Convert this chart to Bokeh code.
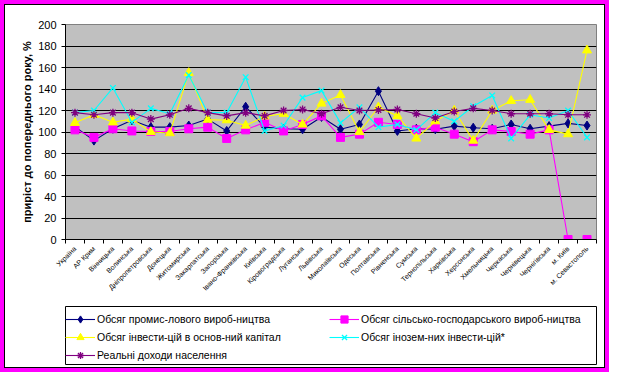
from math import pi
from bokeh.plotting import figure
from bokeh.layouts import column
from bokeh.models import Range1d, FixedTicker, Legend, LegendItem
from bokeh.embed import file_html
from bokeh.resources import INLINE

regions = ["Україна", "АР Крим", "Вінницька", "Волинська", "Дніпропетровська", "Донецька",
           "Житомирська", "Закарпатська", "Запорізька", "Івано-Франківська", "Київська",
           "Кіровоградська", "Луганська", "Львівська", "Миколаївська", "Одеська", "Полтавська",
           "Рівненська", "Сумська", "Тернопільська", "Харківська", "Херсонська", "Хмельницька",
           "Черкаська", "Чернівецька", "Чернігівська", "м. Київ", "м. Севастополь"]

industrial = [105, 92, 103, 111, 104.5, 104.5, 106, 112, 101, 123.5, 104.5, 103, 102.5, 114,
              102.5, 107, 138, 101, 103, 102.5, 105.5, 104, 103, 107, 103, 105.5, 108, 106]
agricultural = [102, 95, 103, 101, 100.5, 100.5, 103, 104.5, 94, 102, 109, 101, 107, 115,
                95, 98, 109, 107, 102, 104.5, 98, 91, 102, 100.5, 98, 102, 0, 0]
capital_inv = [108.5, 116, 109, 112, 100, 99, 155, 111.5, 111, 106, 114.5, 117, 107, 126.5,
               134.5, 100, 123, 115, 94, 110, 120, 92, 120, 129, 130, 102, 98, 176]
foreign_inv = [118, 120, 141, 109, 122, 117, 153, 118, 118, 151, 101, 106, 132, 138.5,
               108.5, 123, 104.5, 107, 102, 118, 110, 124, 134, 94, 116, 113, 120, 95]
real_income = [118, 116, 118, 118, 112, 116, 122, 118, 115, 118, 115, 120, 121, 117,
               123, 120, 120.5, 121, 117, 113, 119, 122, 120, 117, 117, 117, 116, 116]

y_ticks = [0, 20, 40, 60, 80, 100, 120, 140, 160, 180, 200]

series_names = ["Обсяг промис-лового вироб-ництва",
                "Обсяг сільсько-господарського вироб-ництва",
                "Обсяг інвести-цій в основ-ний капітал",
                "Обсяг інозем-них інвести-цій*",
                "Реальні доходи населення"]
y_label = "приріст до попереднього року, %"

FONT = "Liberation Sans"
x = list(range(len(regions)))
colors = ["#000080", "#FF00FF", "#FFFF00", "#00FFFF", "#800080"]
markers = ["diamond", "square", "triangle", "x", "asterisk"]
sizes = [9, 8, 9, 8, 8]
data = [industrial, agricultural, capital_inv, foreign_inv, real_income]

W = 599
p = figure(width=W, height=300, x_range=Range1d(-0.5, len(regions) - 0.5),
           y_range=Range1d(0, 200), output_backend="svg", toolbar_location=None,
           min_border_left=60, min_border_right=8, min_border_top=19, min_border_bottom=66,
           background_fill_color="#C0C0C0", border_fill_color="white")
p.outline_line_color = "#808080"

p.xgrid.grid_line_color = None
p.ygrid.ticker = FixedTicker(ticks=y_ticks)
p.ygrid.grid_line_color = "black"
p.ygrid.grid_line_width = 1

p.yaxis.ticker = FixedTicker(ticks=y_ticks)
p.yaxis.axis_line_color = "black"
p.yaxis.major_tick_out = 4
p.yaxis.major_tick_in = 0
p.yaxis.minor_tick_line_color = None
p.yaxis.major_label_text_font = FONT
p.yaxis.major_label_text_font_size = "11px"
p.yaxis.major_label_text_color = "black"
p.yaxis.major_label_standoff = 5
p.yaxis.axis_label = y_label
p.yaxis.axis_label_text_font = FONT
p.yaxis.axis_label_text_font_size = "11px"
p.yaxis.axis_label_text_font_style = "bold"
p.yaxis.axis_label_text_color = "black"
p.yaxis.axis_label_standoff = 2

bounds = [i - 0.5 for i in range(len(regions) + 1)]
p.xaxis.ticker = FixedTicker(ticks=x, minor_ticks=bounds)
p.xaxis.major_label_overrides = {i: r for i, r in zip(x, regions)}
p.xaxis.major_label_orientation = pi / 4
p.xaxis.major_label_text_font = FONT
p.xaxis.major_label_text_font_size = "7px"
p.xaxis.major_label_text_color = "black"
p.xaxis.major_label_standoff = 4
p.xaxis.major_tick_out = 0
p.xaxis.major_tick_in = 0
p.xaxis.minor_tick_out = 4
p.xaxis.minor_tick_in = 0
p.xaxis.minor_tick_line_color = "black"
p.xaxis.axis_line_color = "black"

# legend panel: a second figure whose frame is the legend box
q = figure(width=W, height=62, x_range=Range1d(-100, -99), y_range=Range1d(0, 200),
           output_backend="svg", toolbar_location=None, x_axis_location=None,
           y_axis_location=None, min_border_left=58, min_border_right=5,
           min_border_top=1, min_border_bottom=3,
           background_fill_color="white", border_fill_color="white")
q.grid.visible = False
q.outline_line_color = "black"
q.outline_line_width = 1

items = []
for name, col, mk, sz, ys in zip(series_names, colors, markers, sizes, data):
    rs = []
    for fig in (p, q):
        ln = fig.line(x, ys, line_color=col, line_width=1.1)
        if mk in ("x", "asterisk"):
            sc = fig.scatter(x, ys, marker=mk, size=sz, line_color=col, line_width=1.3)
        else:
            sc = fig.scatter(x, ys, marker=mk, size=sz, fill_color=col, line_color=col)
        rs.append((ln, sc))
    items.append(LegendItem(label=name, renderers=list(rs[1])))

def make_legend(its, loc):
    return Legend(items=its, location=loc, orientation="vertical",
                  border_line_color=None, background_fill_alpha=0, padding=2, spacing=0,
                  margin=0, glyph_width=30, glyph_height=18, label_height=18,
                  label_standoff=2, label_text_font=FONT, label_text_font_size="10.5px",
                  label_text_color="black")

q.add_layout(make_legend([items[0], items[2], items[4]], (0, 0)), "center")
q.add_layout(make_legend([items[1], items[3]], (264, 18)), "center")

inner = column(p, q, spacing=0, styles={"border": "1px solid black"})
page = column(inner, spacing=0, styles={"border": "4px solid #FF00FF"})

open("out.html", "w").write(file_html(page, INLINE))
